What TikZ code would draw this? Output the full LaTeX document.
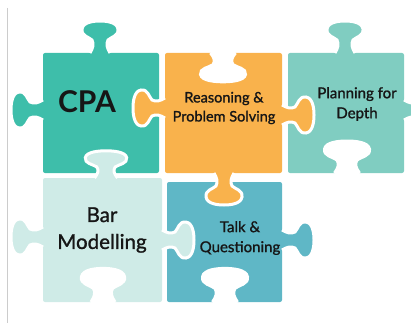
\documentclass[tikz,border=0pt]{standalone}
\usepackage{fontspec}
\setmainfont{Lato}
\newfontface\mediumface{Lato}[FakeBold=1.2]
\definecolor{cpacol}{HTML}{3EBEAA}
\definecolor{reasoncol}{HTML}{F9B24C}
\definecolor{plancol}{HTML}{80CDC1}
\definecolor{barcol}{HTML}{CFEBE7}
\definecolor{talkcol}{HTML}{5FB7C6}
\definecolor{inkcol}{HTML}{161616}

\tikzset{
  pics/knob/.style={code={
    \fill[#1] (-10pt,-2pt) -- (-10pt,0pt) .. controls (-7pt,5pt) and (-6pt,9pt) .. (-8pt,13pt)
      .. controls (-11pt,16pt) and (-19pt,17pt) .. (-18pt,24pt)
      .. controls (-17pt,31pt) and (-6pt,32pt) .. (0pt,32pt)
      .. controls (6pt,32pt) and (17pt,31pt) .. (18pt,24pt)
      .. controls (19pt,17pt) and (11pt,16pt) .. (8pt,13pt)
      .. controls (6pt,9pt) and (7pt,5pt) .. (10pt,0pt) -- (10pt,-2pt) -- cycle;
    \draw[white, line width=3pt] (-10pt,0pt) .. controls (-7pt,5pt) and (-6pt,9pt) .. (-8pt,13pt)
      .. controls (-11pt,16pt) and (-19pt,17pt) .. (-18pt,24pt)
      .. controls (-17pt,31pt) and (-6pt,32pt) .. (0pt,32pt)
      .. controls (6pt,32pt) and (17pt,31pt) .. (18pt,24pt)
      .. controls (19pt,17pt) and (11pt,16pt) .. (8pt,13pt)
      .. controls (6pt,9pt) and (7pt,5pt) .. (10pt,0pt);
  }},
  body/.style={rounded corners=2pt},
  caption/.style={text=inkcol, align=center, inner sep=0pt}
}

\begin{document}
\begin{tikzpicture}[x=1pt,y=-1pt]
\useasboundingbox (0,0) rectangle (411,323);

\draw[black!20, line width=1pt] (7,8) -- (7,323);

\fill[cpacol, body] (43,53) rectangle (159,173);
\fill[reasoncol, body] (165,53) rectangle (282,173);
\fill[plancol, body] (288,53) rectangle (404,173);
\fill[barcol, body] (43,178) rectangle (162,302);
\fill[talkcol, body] (167,182) rectangle (282,302);

\pic[rotate=0] at (100,53) {knob=cpacol};
\pic[rotate=90] at (43,110) {knob=cpacol};

\pic[rotate=180, xscale=1.25, yscale=0.9] at (223,53) {knob=white};
\pic[rotate=90] at (165,108) {knob=reasoncol};
\pic[rotate=-90] at (282,115) {knob=reasoncol};
\pic[rotate=180] at (224,173) {knob=reasoncol};

\pic[rotate=0] at (345,53) {knob=plancol};
\pic[rotate=-90] at (404,110) {knob=plancol};
\pic[rotate=0, xscale=1.25] at (347,173) {knob=white};

\pic[rotate=0, xscale=1.15, yscale=0.85] at (106,178) {knob=barcol};
\pic[rotate=90] at (43,237) {knob=barcol};
\pic[rotate=-90] at (162,240) {knob=barcol};
\pic[rotate=0, xscale=1.2, yscale=1.05] at (103,302) {knob=white};

\pic[rotate=-90] at (282,240) {knob=talkcol};
\pic[rotate=0, xscale=1.25, yscale=1.05] at (225,302) {knob=white};

\node[caption, font=\fontsize{30}{30}\selectfont\bfseries] (cpa) at (87,102) {CPA};
\node[caption, font=\fontsize{14.5}{19}\mediumface] (reasoning) at (224,108) {Reasoning \&\\Problem Solving};
\node[caption, font=\fontsize{15}{20}\mediumface] (planning) at (357,104) {Planning for\\Depth};
\node[caption, font=\fontsize{20.5}{27}\mediumface] (bar) at (102,230) {Bar\\Modelling};
\node[caption, font=\fontsize{15}{20}\mediumface] (talk) at (240,238) {Talk \&\\Questioning};
\end{tikzpicture}
\end{document}
